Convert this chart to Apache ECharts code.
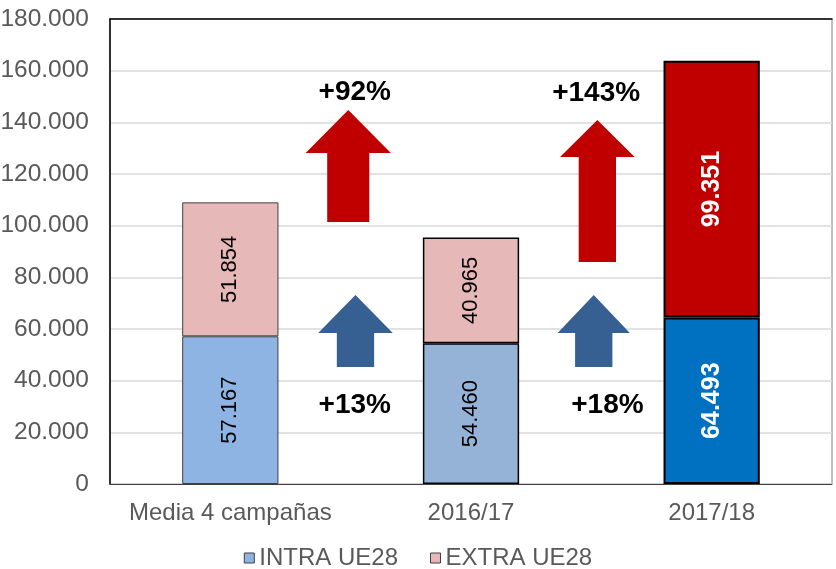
<!DOCTYPE html>
<html>
<head>
<meta charset="utf-8">
<script src="https://cdn.jsdelivr.net/npm/echarts@6/dist/echarts.min.js"></script>
<style>
html,body{margin:0;padding:0;background:#fff;}
#c{width:836px;height:569px;}
</style>
</head>
<body>
<div id="c"></div>
<script>
// ---- data ----
const categories = ['Media 4 campañas', '2016/17', '2017/18'];
const seriesNames = ['INTRA UE28', 'EXTRA UE28'];
const intra = [57167, 54460, 64493];
const extra = [51854, 40965, 99351];
const yTicks = { min: 0, max: 180000, interval: 20000 };

function fmt(v) {
  return String(Math.round(v)).replace(/\B(?=(\d{3})+(?!\d))/g, '.');
}
function pct(a, b) {
  return '+' + Math.round((a / b - 1) * 100) + '%';
}
// growth of 2017/18 versus average (arrow pair 1) and versus 2016/17 (arrow pair 2)
const growthLabels = [
  pct(extra[2], extra[0]), pct(extra[2], extra[1]),
  pct(intra[2], intra[0]), pct(intra[2], intra[1])
];

const FONT = 'Liberation Sans, Arial, sans-serif';
const intraColors = ['#8EB4E3', '#95B3D7', '#0070C0'];
const extraColors = ['#E6B9B8', '#E6B9B8', '#C00000'];
const borderColors = ['#404040', '#000000', '#000000'];
const borderWidths = [1, 1.5, 2];
const ARROW_RED = '#C00000', ARROW_BLUE = '#376092';

function barItems(vals, colors) {
  return vals.map((v, i) => ({
    value: v,
    itemStyle: { color: colors[i], borderColor: borderColors[i], borderWidth: borderWidths[i] },
    label: i === 2
      ? { color: '#ffffff', fontWeight: 'bold', fontSize: 25 }
      : { color: '#000000', fontWeight: 'normal', fontSize: 22 }
  }));
}

const chart = echarts.init(document.getElementById('c'), null, { renderer: 'canvas' });

const option = {
  animation: false,
  backgroundColor: '#ffffff',
  grid: {
    left: 110, right: 4, top: 19, bottom: 85, show: true,
    borderColor: '#808080', borderWidth: 1,
    containLabel: false, outerBoundsMode: 'none'
  },
  legend: {
    data: seriesNames,
    top: 541,
    left: 'center',
    icon: 'rect',
    itemWidth: 10,
    itemHeight: 10,
    itemGap: 32,
    itemStyle: { borderColor: '#404040', borderWidth: 1 },
    textStyle: { fontFamily: FONT, fontSize: 24, color: '#595959' }
  },
  xAxis: [
    {
      type: 'category',
      data: categories,
      axisTick: { show: false },
      axisLine: { show: true, lineStyle: { color: '#404040', width: 1 } },
      axisLabel: { interval: 0, fontFamily: FONT, fontSize: 24, color: '#595959', margin: 17 }
    },
    {
      type: 'value', min: 0, max: 3, position: 'top',
      axisLine: { show: true, onZero: false, lineStyle: { color: '#000000', width: 1.5 } },
      axisTick: { show: false }, axisLabel: { show: false }, splitLine: { show: false }
    }
  ],
  yAxis: {
    type: 'value',
    min: yTicks.min, max: yTicks.max, interval: yTicks.interval,
    axisLine: { show: true, lineStyle: { color: '#000000', width: 1.5 } },
    axisTick: { show: false },
    splitLine: { lineStyle: { color: '#D9D9D9', width: 1.5 } },
    axisLabel: { fontFamily: FONT, fontSize: 24.5, color: '#595959', margin: 21, formatter: fmt }
  },
  series: [
    {
      name: seriesNames[0], type: 'bar', stack: 't', barWidth: '40%',
      itemStyle: { color: intraColors[0] },
      label: { show: true, position: 'inside', rotate: 90, fontFamily: FONT, formatter: p => fmt(p.value) },
      data: barItems(intra, intraColors)
    },
    {
      name: seriesNames[1], type: 'bar', stack: 't', barWidth: '40%',
      itemStyle: { color: extraColors[0] },
      label: { show: true, position: 'inside', rotate: 90, fontFamily: FONT, formatter: p => fmt(p.value) },
      data: barItems(extra, extraColors)
    },
    {
      // arrows: [xCenter, yBottom, yHeadBase, yTip, headWidth, shaftWidth, colorIdx]
      type: 'custom', xAxisIndex: 1, yAxisIndex: 0, silent: true, z: 5,
      renderItem: function (params, api) {
        const x = api.value(0);
        const pb = api.coord([x, api.value(1)]);
        const ph = api.coord([x, api.value(2)]);
        const pt = api.coord([x, api.value(3)]);
        const hw = api.size([api.value(4), 0])[0] / 2;
        const sw = api.size([api.value(5), 0])[0] / 2;
        const cx = pt[0];
        return {
          type: 'polygon',
          shape: { points: [
            [cx, pt[1]], [cx + hw, ph[1]], [cx + sw, ph[1]], [cx + sw, pb[1]],
            [cx - sw, pb[1]], [cx - sw, ph[1]], [cx - hw, ph[1]]
          ] },
          style: { fill: api.value(6) === 0 ? ARROW_RED : ARROW_BLUE }
        };
      },
      data: [
        [0.99, 101400, 128100, 144800, 0.354, 0.175, 0],
        [2.025, 85900, 126600, 140900, 0.31, 0.155, 0],
        [1.02, 45300, 58500, 73200, 0.31, 0.155, 1],
        [2.01, 45300, 58500, 73200, 0.30, 0.155, 1]
      ]
    },
    {
      // growth labels: [xCenter, y, labelIdx]
      type: 'custom', xAxisIndex: 1, yAxisIndex: 0, silent: true, z: 6,
      renderItem: function (params, api) {
        const p = api.coord([api.value(0), api.value(1)]);
        return {
          type: 'text',
          style: {
            text: growthLabels[api.value(2)], x: p[0], y: p[1],
            fill: '#000000', font: 'bold 28px ' + FONT,
            align: 'center', verticalAlign: 'middle'
          }
        };
      },
      data: [
        [1.017, 151700, 0],
        [2.02, 151400, 1],
        [1.017, 30600, 2],
        [2.067, 30600, 3]
      ]
    }
  ]
};
chart.setOption(option);
</script>
</body>
</html>
